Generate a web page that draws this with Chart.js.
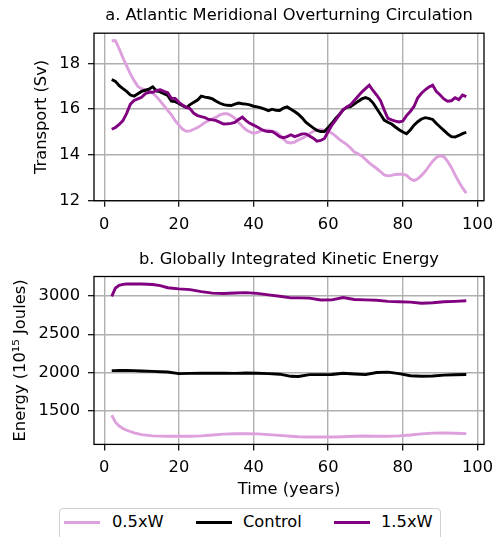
<!DOCTYPE html>
<html>
<head>
<meta charset="utf-8">
<script src="https://cdn.jsdelivr.net/npm/chart.js@4/dist/chart.umd.min.js"></script>
<style>
  body { margin: 0; background: #fff; font-family: 'DejaVu Sans', sans-serif; }
  #wrap { position: relative; width: 493px; height: 537px; overflow: hidden; }
  canvas { position: absolute; left: 0; }
  #c1 { top: 0; }
  #c2 { top: 240px; }
  #legend { position: absolute; left: 59px; top: 508px; width: 382px; height: 40px;
            border: 1px solid #d0d0d0; border-radius: 4px; box-sizing: border-box; }
  .sw { position: absolute; top: 12px; width: 36px; height: 3px; }
  .lab { position: absolute; top: 3px; font-size: 16.3px; line-height: 20px; color: #000; white-space: nowrap; }
</style>
</head>
<body>
<div id="wrap">
  <canvas id="c1" width="493" height="240"></canvas>
  <canvas id="c2" width="493" height="265"></canvas>
  <div id="legend"></div>
</div>
<script>
'use strict';

// ── Data ──────────────────────────────────────────────────
const SERIES = ['0.5xW', 'Control', '1.5xW'];
const COLORS = ['#dda0dd', '#000000', '#800080'];

const X_TICKS  = [0, 20, 40, 60, 80, 100];
const AMOC_TICKS = [12, 14, 16, 18];
const KE_TICKS   = [1500, 2000, 2500, 3000];

// a. AMOC transport (Sv), one value per year
const YEARS = [2, 3, 4, 5, 6, 7, 8, 9, 10, 11, 12, 13, 14, 15, 16, 17, 18, 19, 20, 21,
  22, 23, 24, 25, 26, 27, 28, 29, 30, 31, 32, 33, 34, 35, 36, 37, 38, 39, 40, 41,
  42, 43, 44, 45, 46, 47, 48, 49, 50, 51, 52, 53, 54, 55, 56, 57, 58, 59, 60, 61,
  62, 63, 64, 65, 66, 67, 68, 69, 70, 71, 72, 73, 74, 75, 76, 77, 78, 79, 80, 81,
  82, 83, 84, 85, 86, 87, 88, 89, 90, 91, 92, 93, 94, 95, 96, 97];

const AMOC_HALF = [19.0, 19.0, 18.65, 18.25, 17.9, 17.55, 17.25, 17.0, 16.9, 16.85,
  16.8, 16.7, 16.55, 16.35, 16.15, 15.95, 15.75, 15.5, 15.3, 15.12,
  15.03, 15.05, 15.12, 15.2, 15.3, 15.42, 15.5, 15.58, 15.65, 15.75,
  15.8, 15.8, 15.72, 15.6, 15.42, 15.25, 15.1, 15.0, 14.95, 14.98,
  15.05, 15.08, 15.08, 15.03, 15.0, 14.88, 14.7, 14.55, 14.52, 14.56,
  14.65, 14.72, 14.82, 14.93, 15.03, 15.1, 15.1, 15.08, 15.03, 14.95,
  14.82, 14.68, 14.56, 14.45, 14.3, 14.12, 14.05, 13.95, 13.8, 13.65,
  13.52, 13.4, 13.27, 13.12, 13.08, 13.1, 13.14, 13.15, 13.15, 13.1,
  12.95, 12.87, 12.95, 13.1, 13.28, 13.5, 13.72, 13.88, 13.96, 13.92,
  13.72, 13.45, 13.12, 12.82, 12.55, 12.32];

const AMOC_CTRL = [17.3, 17.22, 17.03, 16.9, 16.78, 16.62, 16.57, 16.68, 16.78, 16.83,
  16.88, 16.98, 16.8, 16.76, 16.68, 16.6, 16.35, 16.33, 16.25, 16.15,
  16.07, 16.2, 16.3, 16.4, 16.57, 16.53, 16.5, 16.45, 16.35, 16.26,
  16.2, 16.17, 16.16, 16.22, 16.27, 16.24, 16.22, 16.19, 16.13, 16.1,
  16.06, 16.0, 15.93, 16.0, 15.95, 15.94, 16.05, 16.1, 16.0, 15.9,
  15.78, 15.62, 15.43, 15.3, 15.18, 15.07, 15.02, 15.02, 15.2, 15.38,
  15.6, 15.77, 15.97, 16.08, 16.11, 16.22, 16.34, 16.45, 16.51, 16.45,
  16.28, 16.03, 15.78, 15.52, 15.43, 15.35, 15.22, 15.1, 15.0, 14.92,
  15.09, 15.3, 15.45, 15.57, 15.63, 15.6, 15.55, 15.37, 15.22, 15.07,
  14.92, 14.8, 14.78, 14.85, 14.93, 14.99];

const AMOC_ONEHALF = [15.12, 15.2, 15.33, 15.5, 15.82, 16.22, 16.38, 16.45, 16.52, 16.68,
  16.74, 16.74, 16.82, 16.85, 16.78, 16.72, 16.48, 16.47, 16.3, 16.18,
  16.08, 16.02, 15.82, 15.72, 15.67, 15.63, 15.55, 15.53, 15.5, 15.42,
  15.35, 15.36, 15.38, 15.42, 15.55, 15.65, 15.5, 15.38, 15.3, 15.22,
  15.12, 15.05, 15.02, 15.02, 14.92, 14.8, 14.75, 14.8, 14.88, 14.8,
  14.85, 14.92, 14.92, 14.83, 14.73, 14.6, 14.63, 14.72, 15.02, 15.3,
  15.52, 15.75, 15.97, 16.1, 16.2, 16.38, 16.57, 16.75, 16.9, 17.05,
  16.82, 16.62, 16.38, 15.97, 15.6, 15.53, 15.48, 15.44, 15.48, 15.72,
  15.9, 16.12, 16.5, 16.7, 16.85, 16.97, 17.05, 16.77, 16.62, 16.45,
  16.35, 16.37, 16.5, 16.42, 16.62, 16.55];

// b. Globally integrated kinetic energy (10^15 J)
const KE_YEARS = [2, 3, 4, 5, 6, 8, 10, 13, 15, 17, 20, 23, 26, 29, 32, 35, 38, 41, 44,
  47, 50, 52, 55, 58, 61, 64, 67, 70, 73, 76, 79, 82, 85, 88, 91, 94, 97];

const KE_HALF = [1441, 1350, 1300, 1268, 1245, 1210, 1188, 1172, 1168, 1166, 1166, 1166,
  1172, 1182, 1194, 1199, 1201, 1198, 1188, 1178, 1166, 1160, 1157, 1157, 1157, 1160,
  1166, 1170, 1167, 1166, 1172, 1183, 1198, 1207, 1209, 1205, 1201];

const KE_CTRL = [2024, 2025, 2026, 2026, 2026, 2025, 2020, 2015, 2010, 2006, 1985, 1988,
  1991, 1990, 1992, 1989, 1993, 1990, 1985, 1978, 1950, 1948, 1972, 1972, 1974, 1990,
  1980, 1972, 2000, 2005, 1985, 1958, 1950, 1955, 1965, 1970, 1973];

const KE_ONEHALF = [2996, 3105, 3140, 3152, 3157, 3157, 3157, 3150, 3135, 3108, 3093, 3083,
  3058, 3037, 3033, 3039, 3044, 3035, 3014, 2996, 2975, 2975, 2972, 2948, 2950, 2980,
  2955, 2950, 2945, 2930, 2925, 2920, 2906, 2912, 2925, 2930, 2938];

// ── Defaults ─────────────────────────────────────────────
const FONT = 16.3;
Chart.defaults.font.family = "'DejaVu Sans', sans-serif";
Chart.defaults.font.size = FONT;
Chart.defaults.color = '#000';

// box around the axes + panel title
const frame = {
  id: 'frame',
  afterDraw(chart, args, opts) {
    const { ctx, chartArea: a } = chart;
    ctx.save();
    ctx.strokeStyle = '#000';
    ctx.lineWidth = 1.3;
    ctx.strokeRect(a.left, a.top, a.right - a.left, a.bottom - a.top);
    ctx.font = FONT + "px 'DejaVu Sans'";
    ctx.fillStyle = '#000';
    ctx.textAlign = 'center';
    ctx.textBaseline = 'middle';
    ctx.fillText(opts.text, (a.left + a.right) / 2, a.top - opts.gap);
    ctx.restore();
  }
};

function pts(xs, ys) { return xs.map((x, i) => ({ x, y: ys[i] })); }

function lineSet(label, data, color, order) {
  return { label, data, borderColor: color, backgroundColor: color, borderWidth: 2.9,
           pointRadius: 0, tension: 0, fill: false, order };
}

const gridOpts = { color: '#b0b0b0', lineWidth: 1.4, tickColor: '#000', tickLength: 6, tickWidth: 1.2 };

function buildPanel(id, o) {
  return new Chart(document.getElementById(id), {
    type: 'line',
    data: { datasets: o.datasets },
    options: {
      responsive: false,
      animation: false,
      layout: { padding: { top: o.top, right: 9, left: 0, bottom: 0 } },
      plugins: { legend: { display: false }, tooltip: { enabled: false }, frame: { text: o.title, gap: 17 } },
      scales: {
        x: {
          type: 'linear', min: -2.75, max: 101.75,
          afterBuildTicks: s => { s.ticks = X_TICKS.map(v => ({ value: v })); },
          afterFit: s => { s.height = o.xh; s.paddingLeft = 0; s.paddingRight = 0; },
          grid: gridOpts, border: { display: false },
          ticks: { padding: 8, maxRotation: 0, autoSkip: false, callback: v => String(v) },
          title: o.xTitle ? { display: true, text: o.xTitle, padding: { top: 0, bottom: 5 } } : { display: false }
        },
        y: {
          min: o.ymin, max: o.ymax,
          afterBuildTicks: s => { s.ticks = o.yticks.map(v => ({ value: v })); },
          afterFit: s => { s.width = 94; s.paddingTop = 0; s.paddingBottom = 0; },
          grid: gridOpts, border: { display: false },
          ticks: { padding: 8, callback: v => String(v) },
          title: { display: true, text: o.yTitle, padding: { top: o.yTitlePad, bottom: 0 } }
        }
      }
    },
    plugins: [frame]
  });
}

buildPanel('c1', {
  title: 'a. Atlantic Meridional Overturning Circulation',
  top: 33.2, xh: 240 - 200.7, ymin: 11.99, ymax: 19.33, yticks: AMOC_TICKS,
  yTitle: 'Transport (Sv)', yTitlePad: 31.9,
  datasets: [
    lineSet(SERIES[0], pts(YEARS, AMOC_HALF), COLORS[0], 3),
    lineSet(SERIES[1], pts(YEARS, AMOC_CTRL), COLORS[1], 2),
    lineSet(SERIES[2], pts(YEARS, AMOC_ONEHALF), COLORS[2], 1)
  ]
});

buildPanel('c2', {
  title: 'b. Globally Integrated Kinetic Energy',
  top: 36.5, xh: 265 - 204.4, ymin: 1060, ymax: 3255, yticks: KE_TICKS,
  yTitle: 'Energy (10\u00b9\u2075 Joules)', yTitlePad: 10.5, xTitle: 'Time (years)',
  datasets: [
    lineSet(SERIES[0], pts(KE_YEARS, KE_HALF), COLORS[0], 3),
    lineSet(SERIES[1], pts(KE_YEARS, KE_CTRL), COLORS[1], 2),
    lineSet(SERIES[2], pts(KE_YEARS, KE_ONEHALF), COLORS[2], 1)
  ]
});

// ── Legend ───────────────────────────────────────────────
const legend = document.getElementById('legend');
const swLeft = [4, 136, 274];
const labLeft = [52, 183, 321];
SERIES.forEach((name, i) => {
  const sw = document.createElement('div');
  sw.className = 'sw';
  sw.style.left = swLeft[i] + 'px';
  sw.style.background = COLORS[i];
  legend.appendChild(sw);
  const lab = document.createElement('div');
  lab.className = 'lab';
  lab.style.left = labLeft[i] + 'px';
  lab.textContent = name;
  legend.appendChild(lab);
});
</script>
</body>
</html>
